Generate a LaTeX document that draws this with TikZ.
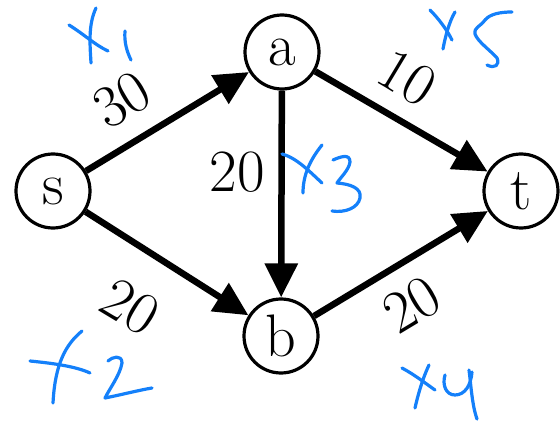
\documentclass[tikz,border=0pt]{standalone}
\usetikzlibrary{arrows.meta}
\definecolor{ink}{RGB}{20,128,250}
\begin{document}
\begin{tikzpicture}[x=1pt,y=-1pt,
  vert/.style={circle,draw,line width=3.2pt,minimum size=74pt,inner sep=0pt,font=\fontsize{60}{60}\selectfont},
  edge/.style={line width=6.5pt,-{Triangle[length=34pt,width=32pt]}},
  wlab/.style={font=\fontsize{60}{60}\selectfont,inner sep=0pt},
  hand/.style={draw=ink,line width=3.2pt,line cap=round,line join=round}]
\useasboundingbox (0,0) rectangle (560,422);
\node[vert] (s) at (53,191) {s};
\node[vert] (a) at (282,52) {a};
\node[vert] (b) at (281,336) {b};
\node[vert] (t) at (521,191) {t};
\draw[edge] (s) -- (a);
\draw[edge] (s) -- (b);
\draw[edge] (a) -- (b);
\draw[edge] (a) -- (t);
\draw[edge] (b) -- (t);
\node[wlab,rotate=31] (l1) at (122,100) {30};
\node[wlab,rotate=-31] (l5) at (407,78) {10};
\node[wlab,rotate=-31] (l2) at (130,307) {20};
\node[wlab,rotate=31] (l4) at (412,305) {20};
\node[wlab] (l3) at (237,172) {20};
% x1
\draw[hand] (69,25) .. controls (85,35) and (95,45) .. (108,51);
\draw[hand] (96,8) .. controls (88,25) and (90,45) .. (91,63);
\draw[hand] (125,31) .. controls (124,42) and (127,52) .. (131,60);
% x5
\draw[hand] (430,10) .. controls (437,17) and (446,28) .. (452,40);
\draw[hand] (455,12) .. controls (449,22) and (445,38) .. (443,49);
\draw[hand] (512,12) .. controls (500,12) and (490,14) .. (485,20)
  .. controls (480,27) and (474,27) .. (475,34)
  .. controls (478,42) and (490,50) .. (497,58)
  .. controls (500,65) and (495,69) .. (487,65);
% x3
\draw[hand] (282,154) .. controls (297,158) and (310,172) .. (322,183);
\draw[hand] (322,145) .. controls (310,160) and (303,175) .. (303,193);
\draw[hand] (333,160) .. controls (340,157) and (350,153) .. (350,162)
  .. controls (349,170) and (340,178) .. (337,183)
  .. controls (350,184) and (362,188) .. (360,198)
  .. controls (358,208) and (345,213) .. (332,211);
% x2
\draw[hand] (30,361) .. controls (50,363) and (75,366) .. (90,373);
\draw[hand] (82,331) .. controls (65,345) and (55,365) .. (53,403);
\draw[hand] (108,361) .. controls (112,357) and (122,354) .. (122,363)
  .. controls (120,375) and (110,388) .. (105,398)
  .. controls (120,395) and (140,390) .. (152,388);
% x4
\draw[hand] (402,368) .. controls (415,375) and (425,383) .. (435,390);
\draw[hand] (429,365) .. controls (422,380) and (418,395) .. (415,408);
\draw[hand] (445,375) .. controls (442,385) and (446,395) .. (455,395)
  .. controls (465,395) and (471,385) .. (472,372);
\draw[hand] (469,370) .. controls (471,385) and (472,405) .. (477,419);
\end{tikzpicture}
\end{document}
